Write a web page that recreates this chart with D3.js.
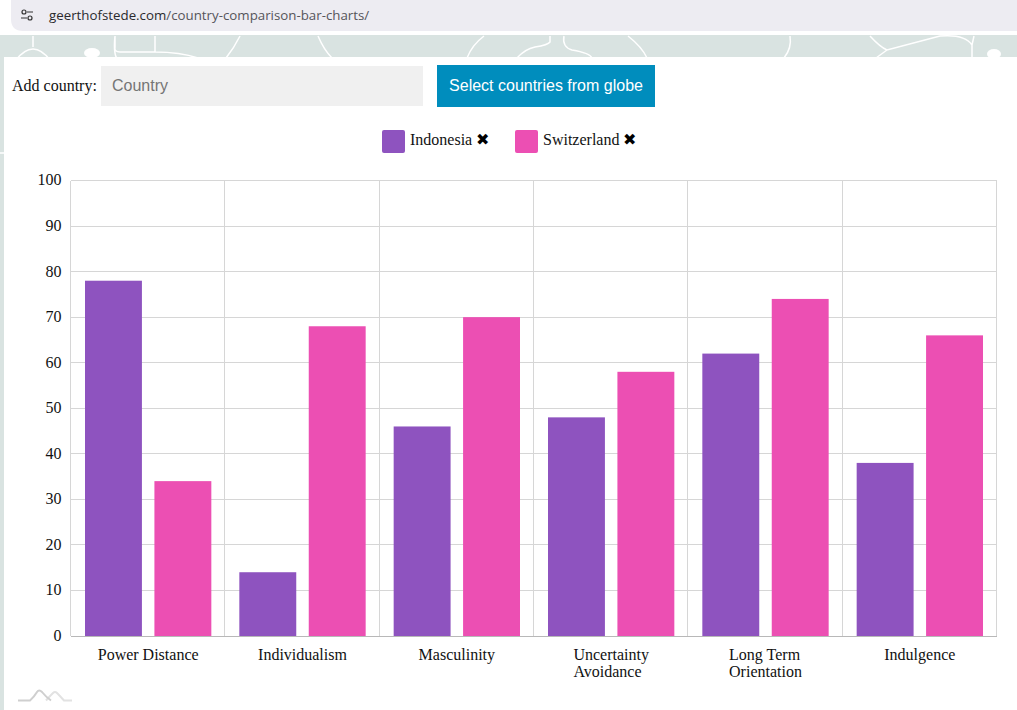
<!DOCTYPE html>
<html>
<head>
<meta charset="utf-8">
<script src="https://cdn.jsdelivr.net/npm/d3@7"></script>
<style>
html, body { margin: 0; padding: 0; background: #fff; overflow: hidden; }
svg { display: block; }
text { font-family: "Liberation Serif", serif; fill: #111; }
</style>
</head>
<body>
<div id="chart"></div>
<script>
var categories = [["Power Distance"], ["Individualism"], ["Masculinity"], ["Uncertainty", "Avoidance"], ["Long Term", "Orientation"], ["Indulgence"]];
var countries = ["Indonesia", "Switzerland"];
var indonesia = [78, 14, 46, 48, 62, 38];
var switzerland = [34, 68, 70, 58, 74, 66];
var yTicks = [0, 10, 20, 30, 40, 50, 60, 70, 80, 90, 100];
var colors = ["#8e53bf", "#ec4fb3"];

var width = 1017, height = 710;
var margin = {top: 180.5, right: 20.5, bottom: 74, left: 70.5};

var svg = d3.select("#chart").append("svg")
  .attr("width", width)
  .attr("height", height);

// browser bar + page background
svg.append("rect").attr("y", 35).attr("width", width).attr("height", height - 35).attr("fill", "#d9e3e1");
svg.append("path")
  .attr("d", "M11,0H1017V31H23Q11,31 11,19Z")
  .attr("fill", "#edecf2");

var addr = svg.append("text")
  .attr("x", 49).attr("y", 20)
  .style("font-family", "'Open Sans', sans-serif")
  .style("font-size", "13.3px");
addr.append("tspan").style("fill", "#2a2a2e").text("geerthofstede.com");
addr.append("tspan").style("fill", "#55555a").text("/country-comparison-bar-charts/");

var siteIcon = svg.append("g").attr("fill", "none").attr("stroke", "#333").attr("stroke-width", 1.2);
siteIcon.append("circle").attr("cx", 24).attr("cy", 12).attr("r", 2);
siteIcon.append("path").attr("d", "M27,12H33M21,18H27");
siteIcon.append("circle").attr("cx", 30).attr("cy", 18).attr("r", 2);

// map outlines behind the panel
var mapLines = [
  "M33,36V47M16,60Q33,38 50,60",
  "M115,36V47Q114,52 120,52H155Q180,52 198,58M155,36V52M115,36Q113,55 118,60",
  "M240,36Q234,48 226,58",
  "M318,36Q324,50 332,58",
  "M484,36Q472,45 467,58",
  "M550,36V42Q548,45 535,47Q525,49 517,58",
  "M564,36Q562,47 572,50Q590,53 592,58",
  "M628,36Q642,47 647,58",
  "M790,36Q792,48 784,58",
  "M870,36Q880,47 887,50L940,36Q965,34 972,45L974,36M972,45V58M887,50L876,58",
  "M0,153H4"
];
svg.append("g").selectAll("path").data(mapLines).enter().append("path")
  .attr("d", function(d) { return d; })
  .attr("fill", "none")
  .attr("stroke", "#fff")
  .attr("stroke-width", 1.5);
svg.append("ellipse").attr("cx", 92).attr("cy", 53).attr("rx", 8).attr("ry", 5).attr("fill", "#fff");
svg.append("ellipse").attr("cx", 994).attr("cy", 54).attr("rx", 7).attr("ry", 5).attr("fill", "#fff");

svg.append("rect").attr("x", 4).attr("y", 57).attr("width", width - 4).attr("height", height - 57).attr("fill", "#fff");

// add-country form
svg.append("text").attr("x", 12).attr("y", 91).style("font-size", "16px").text("Add country:");
svg.append("rect").attr("x", 101).attr("y", 66).attr("width", 322).attr("height", 40).attr("fill", "#f0f0f0");
svg.append("text").attr("x", 112).attr("y", 91)
  .style("font-family", "'Liberation Sans', sans-serif").style("font-size", "16px").style("fill", "#757575")
  .text("Country");
svg.append("rect").attr("x", 437).attr("y", 65).attr("width", 218).attr("height", 42).attr("fill", "#008dbd");
svg.append("text").attr("x", 546).attr("y", 91).attr("text-anchor", "middle")
  .style("font-family", "'Liberation Sans', sans-serif").style("font-size", "16px").style("fill", "#fff")
  .text("Select countries from globe");

// legend
var legendX = [382, 515];
var legend = svg.append("g").selectAll("g").data(countries).enter().append("g")
  .attr("transform", function(d, i) { return "translate(" + legendX[i] + ",130)"; });
legend.append("rect")
  .attr("width", 23).attr("height", 23).attr("rx", 2)
  .attr("fill", function(d, i) { return colors[i]; });
legend.append("text").attr("x", 28).attr("y", 15).style("font-size", "16px")
  .text(function(d) { return d; });
legend.append("text")
  .attr("x", function(d, i) { return [94, 108][i]; })
  .attr("y", 15)
  .style("font-family", "'DejaVu Sans', sans-serif").style("font-size", "16px").style("fill", "#000")
  .text("\u2716");

// chart
var innerW = width - margin.left - margin.right;
var innerH = height - margin.top - margin.bottom;

var x = d3.scaleBand().domain(d3.range(categories.length)).range([0, innerW]);
var x1 = d3.scaleBand().domain(countries).range([14.5, x.bandwidth() - 13.5]).paddingInner(0.18);
var y = d3.scaleLinear().domain([0, 100]).range([innerH, 0]);

var g = svg.append("g").attr("transform", "translate(" + margin.left + "," + margin.top + ")");

var grid = g.append("g").attr("shape-rendering", "crispEdges");
grid.append("g").selectAll("line").data(yTicks).enter().append("line")
  .attr("x1", 0).attr("x2", innerW)
  .attr("y1", function(d) { return y(d); }).attr("y2", function(d) { return y(d); })
  .attr("stroke", "#d6d6d6");
grid.append("g").selectAll("line").data(d3.range(categories.length + 1)).enter().append("line")
  .attr("x1", function(d) { return d * x.bandwidth(); }).attr("x2", function(d) { return d * x.bandwidth(); })
  .attr("y1", 0).attr("y2", innerH)
  .attr("stroke", "#d6d6d6");

var series = [indonesia, switzerland];
series.forEach(function(values, s) {
  g.append("g").selectAll("rect").data(values).enter().append("rect")
    .attr("x", function(d, i) { return x(i) + x1(countries[s]); })
    .attr("y", function(d) { return y(d); })
    .attr("width", x1.bandwidth())
    .attr("height", function(d) { return innerH - y(d); })
    .attr("fill", colors[s]);
});

// baseline sits over the bars
g.append("line")
  .attr("x1", 0).attr("x2", innerW)
  .attr("y1", y(0)).attr("y2", y(0))
  .attr("shape-rendering", "crispEdges")
  .attr("stroke", "#999")
  .attr("stroke-opacity", 0.5);

var yAxis = d3.axisLeft(y).tickValues(yTicks).tickSize(0).tickPadding(9);
var yG = g.append("g").call(yAxis);
yG.select(".domain").remove();
yG.selectAll("text").attr("dy", "0.28em")
  .style("font-family", "'Liberation Serif', serif").style("font-size", "16px").style("fill", "#111");

var xLabels = g.append("g").selectAll("text").data(categories).enter().append("text")
  .style("font-size", "16px");
xLabels.each(function(d, i) {
  var t = d3.select(this);
  var cx = x(i) + x.bandwidth() / 2 + 0.5;
  var spans = d.map(function(line, k) {
    return t.append("tspan").attr("y", innerH + 24 + k * 17).text(line);
  });
  // lines are left aligned, block centered on the band
  var widest = d3.max(spans, function(s) { return s.node().getComputedTextLength(); });
  spans.forEach(function(s) { s.attr("x", cx - widest / 2); });
});

// small logo bottom left
var logo = svg.append("g").attr("fill", "none");
logo.append("path").attr("d", "M46,700.5Q50,696 53,693Q55,691 57,693Q60,696 64,700.5H72").attr("stroke", "#e2e2e2").attr("stroke-width", 2);
logo.append("path").attr("d", "M18,700.5H30Q34,697 37,692Q39,689 42,692Q46,697 51,700.5").attr("stroke", "#cfcfcf").attr("stroke-width", 2);
</script>
</body>
</html>
